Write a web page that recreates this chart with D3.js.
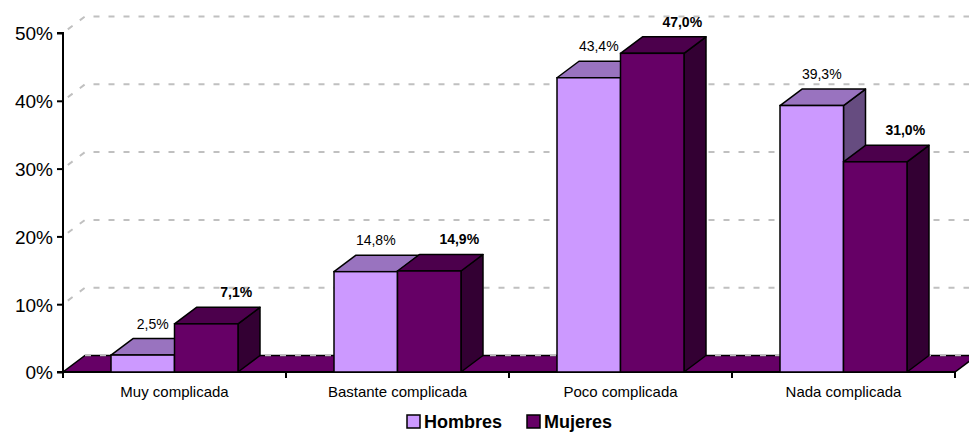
<!DOCTYPE html>
<html><head><meta charset="utf-8">
<script src="https://cdn.jsdelivr.net/npm/d3@7"></script>
<style>
html,body{margin:0;padding:0;background:#fff;}
svg{display:block;font-family:Arial,"Liberation Sans",sans-serif;}
</style></head>
<body>
<svg id="c" width="969" height="432"></svg>
<script>
const categories = ["Muy complicada", "Bastante complicada", "Poco complicada", "Nada complicada"];
const seriesNames = ["Hombres", "Mujeres"];
const hombres = [2.5, 14.8, 43.4, 39.3];
const mujeres = [7.1, 14.9, 47.0, 31.0];
const yTicks = [0, 10, 20, 30, 40, 50];

const colors = {
  Hombres: {front: "#CC99FF", top: "#9973BF", side: "#664C80"},
  Mujeres: {front: "#660066", top: "#4C004C", side: "#330033"}
};

const svg = d3.select("#c");
const W = 969, H = 432;
const x0 = 63, x1 = 955;
const dx = 22, dy = -16.5;

const x = d3.scaleBand().domain(categories).range([x0, x1]).paddingInner(0).paddingOuter(0);
const xs = d3.scaleBand().domain(seriesNames).range([0, x.bandwidth()]).paddingInner(0).paddingOuter(0.756);
const y = d3.scaleLinear().domain([0, 50]).range([372, 33]);

const fmt = v => d3.format(".1f")(v).replace(".", ",") + "%";

// gridlines (back wall + left wall diagonal)
const grid = svg.append("g");
yTicks.forEach(t => {
  if (t === 0) return;
  grid.append("path")
    .attr("d", `M${x0},${y(t)}L${x0+dx},${y(t)+dy}L${W+5},${y(t)+dy}`)
    .attr("fill", "none").attr("stroke", "#C0C0C0").attr("stroke-width", 2)
    .attr("stroke-dasharray", "6,9").attr("stroke-dashoffset", -6);
});

// floor
svg.append("path")
  .attr("d", `M${x0},${y(0)}L${x1},${y(0)}L${x1+dx},${y(0)+dy}L${x0+dx},${y(0)+dy}Z`)
  .attr("fill", "#660066").attr("stroke", "#000").attr("stroke-width", 1.5);
svg.append("path")
  .attr("d", `M${x0+dx},${y(0)+dy}L${W+5},${y(0)+dy}`)
  .attr("stroke", "#C0C0C0").attr("stroke-width", 1.5).attr("stroke-dasharray", "6,9");

// y axis
const yAxis = d3.axisLeft(y).tickValues(yTicks).tickSize(6).tickPadding(4).tickFormat(d => d + "%");
const ya = svg.append("g").attr("transform", `translate(${x0},0)`).call(yAxis);
ya.select(".domain").attr("stroke", "#000").attr("stroke-width", 2).attr("d", `M-6,${y(50)}H0V${y(0)}H-6`);
ya.selectAll(".tick line").attr("stroke", "#000").attr("stroke-width", 2);
ya.selectAll(".tick text").attr("font-size", 19).attr("fill", "#000").attr("font-family", "Arial, 'Liberation Sans', sans-serif").attr("dy", "0.36em").attr("x", -10);

// x axis (category boundaries)
const boundaries = categories.map(c => x(c)).concat([x1]);
const xa = svg.append("g");
boundaries.forEach(b => {
  xa.append("line").attr("x1", b).attr("x2", b).attr("y1", y(0)).attr("y2", y(0) + 6)
    .attr("stroke", "#000").attr("stroke-width", 2);
});
xa.append("line").attr("x1", x0).attr("x2", x1).attr("y1", y(0)).attr("y2", y(0)).attr("stroke", "#000").attr("stroke-width", 2);
categories.forEach(c => {
  xa.append("text").attr("x", x(c) + x.bandwidth() / 2).attr("y", 397)
    .attr("text-anchor", "middle").attr("font-size", 15).attr("fill", "#000").text(c);
});

// bars
function drawSeries(name, values, bold, labelDx) {
  const g = svg.append("g");
  const c = colors[name];
  categories.forEach((cat, i) => {
    const v = values[i];
    const L = x(cat) + xs(name), R = L + xs.bandwidth();
    const T = y(v), B = y(0);
    const bg = g.append("g");
    bg.append("path").attr("d", `M${R},${B}L${R+dx},${B+dy}L${R+dx},${T+dy}L${R},${T}Z`)
      .attr("fill", c.side).attr("stroke", "#000").attr("stroke-width", 1.5).attr("stroke-linejoin", "round");
    bg.append("path").attr("d", `M${L},${T}L${L+dx},${T+dy}L${R+dx},${T+dy}L${R},${T}Z`)
      .attr("fill", c.top).attr("stroke", "#000").attr("stroke-width", 1.5).attr("stroke-linejoin", "round");
    bg.append("rect").attr("x", L).attr("y", T).attr("width", R - L).attr("height", B - T)
      .attr("fill", c.front).attr("stroke", "#000").attr("stroke-width", 1.5);
  });
  categories.forEach((cat, i) => {
    const v = values[i];
    const L = x(cat) + xs(name), R = L + xs.bandwidth();
    g.append("text").attr("x", (L + R) / 2 + labelDx).attr("y", y(v) + dy - 10)
      .attr("text-anchor", "middle").attr("font-size", 14)
      .attr("font-weight", bold ? "bold" : "normal").attr("fill", "#000").text(fmt(v));
  });
}
drawSeries("Hombres", hombres, false, 10);
drawSeries("Mujeres", mujeres, true, 30);

// legend
const leg = svg.append("g");
const legItems = [{name: "Hombres", x: 407, label: "Hombres"}, {name: "Mujeres", x: 527, label: "Mujeres"}];
legItems.forEach(it => {
  leg.append("rect").attr("x", it.x).attr("y", 415).attr("width", 13).attr("height", 13)
    .attr("fill", colors[it.name].front).attr("stroke", "#000").attr("stroke-width", 1.5);
  leg.append("text").attr("x", it.x + 17).attr("y", 428).attr("font-size", 18)
    .attr("font-weight", "bold").attr("fill", "#000").text(it.label);
});
</script>
</body></html>
